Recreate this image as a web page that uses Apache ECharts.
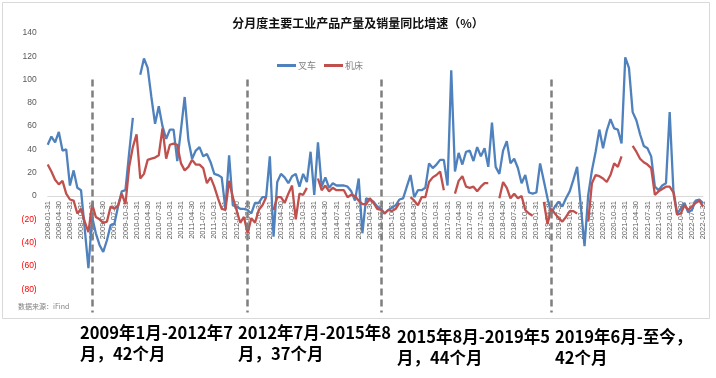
<!DOCTYPE html>
<html>
<head>
    <meta charset="utf-8">
    <style>
        html, body {
            width: 100%;
            height: 100%;
            margin: 0;
            background: #fff;
        }

        #chart-panel {
            width: 716px;
            height: 378px;
        }
    </style>
    <script src="https://cdn.jsdelivr.net/npm/echarts@6/dist/echarts.min.js"></script>
</head>
<body>
<div id="chart-panel"></div>
<script type="text/javascript">
  // month-end dates, 2008-01 .. 2022-10
  var months = []
  for (var y = 2008; y <= 2022; y++) {
    for (var m = 1; m <= 12; m++) {
      if (y === 2022 && m > 10) break
      var d = new Date(y, m, 0).getDate()
      months.push(y + '-' + (m < 10 ? '0' + m : m) + '-' + d)
    }
  }

  // 叉车 (forklift) yoy growth, %
  var forklift = [
    44, 51, 46, 55, 39, 40, 9, 22, 7, 5, -28, -62,
    -18, -32, -42, -48, -38, -25, -24, -9, 4, 5, 37, 67,
    null, 104, 118, 110, 85, 62, 77, 60, 49, 57, 57, 30,
    57, 85, 48, 32, 39, 42, 34, 36, 29, 19, 18, 16,
    -11, 35, -8, -9, -11, -11, -12, -15, -6, -6, -1, -1,
    34, -35, 12, 19, 16, 11, 17, 19, 8, 19, 12, 38,
    1, 46, 8, 16, 7, 11, 9, 9, 9, 8, 4, -4,
    15, -32, -2, -3, -5, -9, -11, -15, -12, -10, -8, -3,
    -2, 8, 18, -1, 5, 5, 7, 28, 24, 27, 31, 31,
    9, 108, 21, 37, 27, 38, 39, 30, 42, 34, 41, 25,
    63, 25, 19, 39, 47, 28, 32, 24, 11, 18, 3, 2,
    3, 28, 13, -2, -15, -9, -5, -9, -2, 4, 14, 25,
    -9, -43, 1, 22, 38, 57, 41, 56, 66, 58, 57, 45,
    119, 110, 72, 65, 53, 43, 41, 34, 8, 5, 9, 11,
    72, 5, -15, -11, -6, -14, -12, -4, -3, -6
  ]

  // 机床 (machine tool) yoy growth, %
  var machineTool = [
    27, 21, 14, 10, 13, 2, -3, -4, -15, -11, -22, -31,
    -7, -18, -20, -23, -22, -9, -11, -8, 2, -7, 25, 42,
    53, 15, 19, 31, 32, 33, 35, 58, 32, 44, 45, 44,
    28, 22, 25, 31, 27, 27, 24, 11, 16, 8, -2, -11,
    -12, 13, -1, -12, -23, -18, -32, -19, -23, -12, -8, -1,
    null, -12, -1, -1, -6, 2, 9, -20, 2, 1, 7, null,
    null, 15, 5, 9, 4, 7, 5, 5, 5, -1, 1, 0,
    -4, -7, -7, -2, -6, -11, -12, -15, -12, -13, -11, -6,
    null, null, -1, -4, -8, -1, -1, 12, 16, 18, 21, 5,
    null, null, 2, 13, 17, 8, 7, 8, 4, 8, 11, 11,
    null, null, -2, 12, 7, -2, 2, -2, 0, -12, -15, -17,
    null, null, -5, -24, -11, -15, -19, -22, -18, -13, -13, -15,
    null, null, -22, 11, 18, 17, 15, 12, 18, 28, 25, 34,
    null, null, 43, 38, 32, 29, 27, 24, 1, 4, 6, 8,
    8, 3, -16, -15, -8, -12, -9, -6, -4, -9
  ]

  // dashed period dividers
  var dividers = ['2009-01-31', '2012-07-31', '2015-07-31', '2019-05-31']

  var periodNotes = [
    '2009年1月-2012年7\n月，42个月',
    '2012年7月-2015年8\n月，37个月',
    '2015年8月-2019年5\n月，44个月',
    '2019年6月-至今，\n42个月'
  ]
  var noteLeft = [80, 238, 397, 555]
  var noteTop = [322, 322, 326, 326]

  var myChart = echarts.init(document.getElementById('chart-panel'))

  var option = {
    animation: false,
    color: ['#4F81BD', '#C0504D'],
    title: {
      text: '分月度主要工业产品产量及销量同比增速（%）',
      left: 'center',
      top: 12,
      textStyle: {
        fontFamily: 'Noto Sans CJK SC',
        fontSize: 12,
        fontWeight: 'bold',
        color: '#111'
      }
    },
    legend: {
      left: 272,
      top: 56,
      itemGap: 8,
      itemWidth: 19,
      itemHeight: 3,
      icon: 'rect',
      textStyle: {
        fontFamily: 'Noto Sans CJK SC',
        fontSize: 9,
        color: '#808080',
        padding: [0, 0, 0, -3]
      },
      data: ['叉车', '机床']
    },
    grid: {
      left: 47.7,
      right: 13,
      top: 32.9,
      bottom: 65.5
    },
    xAxis: {
      type: 'category',
      boundaryGap: false,
      data: months,
      // sits on the zero line; offset is the fallback if onZero is ignored
      offset: -116.5,
      axisLine: {onZero: true, lineStyle: {color: '#d9d9d9', width: 1}},
      axisTick: {show: false},
      axisLabel: {
        rotate: 90,
        interval: 2,
        margin: 5,
        fontSize: 7.5,
        fontFamily: 'Liberation Sans',
        color: '#595959'
      },
      splitLine: {show: false}
    },
    yAxis: {
      type: 'value',
      min: -100,
      max: 140,
      interval: 20,
      axisLine: {show: false},
      axisTick: {show: false},
      splitLine: {show: false},
      axisLabel: {
        margin: 11,
        fontSize: 8.5,
        fontFamily: 'Liberation Sans',
        color: function (v) {
          return Number(v) < 0 ? '#FF0000' : '#595959'
        },
        formatter: function (v) {
          if (v <= -100) return ''
          return v < 0 ? '(' + (-v) + ')' : String(v)
        }
      }
    },
    series: [
      {
        name: '叉车',
        type: 'line',
        data: forklift,
        symbol: 'none',
        connectNulls: false,
        lineStyle: {width: 2.3},
        markLine: {
          silent: true,
          symbol: ['none', 'none'],
          label: {show: false},
          lineStyle: {color: '#7f7f7f', type: [7, 4], width: 2.5},
          data: dividers.map(function (d) {
            return [{coord: [d, 100]}, {coord: [d, -100]}]
          })
        }
      },
      {
        name: '机床',
        type: 'line',
        data: machineTool,
        symbol: 'none',
        connectNulls: false,
        lineStyle: {width: 2.3}
      }
    ],
    graphic: [
      {
        type: 'rect',
        z: -1,
        shape: {x: 2.5, y: 2.5, width: 707, height: 316},
        style: {fill: 'none', stroke: '#d9d9d9', lineWidth: 1}
      },
      {
        type: 'text',
        left: 18,
        top: 303,
        style: {
          text: '数据来源：iFind',
          fill: '#7f7f7f',
          font: '7px "Noto Sans CJK SC"'
        }
      }
    ].concat(periodNotes.map(function (t, i) {
      return {
        type: 'text',
        left: noteLeft[i],
        top: noteTop[i],
        style: {
          text: t,
          fill: '#000',
          font: 'bold 16.5px "Noto Sans CJK SC"',
          lineHeight: 21
        }
      }
    }))
  }

  myChart.setOption(option)
</script>
</body>
</html>
